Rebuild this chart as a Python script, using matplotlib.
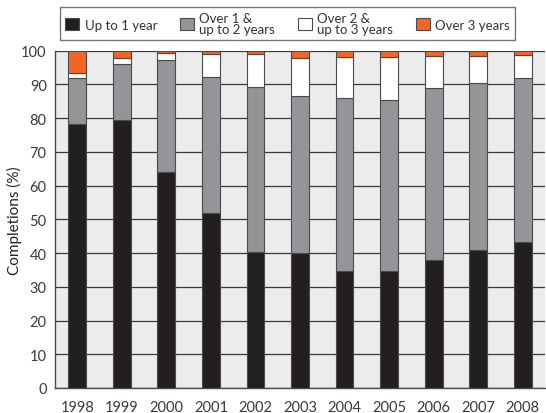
import matplotlib
matplotlib.use("Agg")
import matplotlib.pyplot as plt
import numpy as np

years = ["1998", "1999", "2000", "2001", "2002", "2003", "2004", "2005", "2006", "2007", "2008"]
up_to_1 = [78.2, 79.6, 64.1, 52.0, 40.3, 40.0, 34.8, 34.6, 38.0, 40.9, 43.3]
over1_to2 = [13.7, 16.6, 33.1, 40.3, 49.0, 46.6, 51.1, 50.8, 50.9, 49.6, 48.6]
over2_to3 = [1.6, 1.6, 2.0, 6.6, 9.6, 11.2, 12.3, 12.7, 9.4, 7.9, 6.8]
over3 = [6.5, 2.2, 0.8, 1.1, 1.1, 2.2, 1.8, 1.9, 1.7, 1.6, 1.3]

series = [up_to_1, over1_to2, over2_to3, over3]
labels = ["Up to 1 year", "Over 1 &\nup to 2 years", "Over 2 &\nup to 3 years", "Over 3 years"]
colors = ["#231f20", "#939598", "#ffffff", "#f26522"]

plt.rcParams['font.family'] = ['Lato', 'DejaVu Sans']

fig = plt.figure(figsize=(5.46, 4.14), dpi=100)
ax = fig.add_axes([55/546, 25/414, 490/546, (389-51.7)/414])
ax.set_facecolor("#ececec")

x = np.arange(len(years))
bottom = np.zeros(len(years))
handles = []
for vals, lab, col in zip(series, labels, colors):
    b = ax.bar(x, vals, width=0.4, bottom=bottom, color=col, edgecolor="#4a4a4a",
               linewidth=0.8, label=lab, zorder=3)
    handles.append(b)
    bottom += np.array(vals)

ax.set_xlim(-0.5, len(years) - 0.5)
ax.set_ylim(0, 100)
ax.set_yticks(np.arange(0, 101, 10))
ax.set_xticks(x)
ax.set_xticklabels(years)
ax.yaxis.grid(True, color="#3a3a3a", linewidth=0.9, zorder=1)
ax.set_axisbelow(True)
ax.tick_params(axis='both', length=0, labelsize=10.5, colors="#3a3a3a", pad=6)
ax.tick_params(axis='x', pad=9)
for s in ["top", "right"]:
    ax.spines[s].set_visible(False)
for s in ["left", "bottom"]:
    ax.spines[s].set_color("#4a4a4a")
    ax.spines[s].set_linewidth(1.0)
ax.set_ylabel("Completions (%)", fontsize=11, color="#222222")
ax.yaxis.set_label_coords((22 - 55) / 490, 0.5)

leg = fig.legend(handles=handles, labels=labels, loc="center", ncol=4,
                 bbox_to_anchor=(53/546, 1 - 42/414, 469/546, 35/414),
                 mode="expand", frameon=True, fancybox=False, fontsize=9.5,
                 handlelength=1.1, handleheight=1.1, handletextpad=0.4,
                 columnspacing=1.0, borderpad=0.4, labelspacing=0.1)
leg.get_frame().set_edgecolor("#555555")
leg.get_frame().set_linewidth(1.0)
for t in leg.get_texts():
    t.set_color("#333333")
    t.set_linespacing(0.9)

fig.savefig("out.png", dpi=100)
